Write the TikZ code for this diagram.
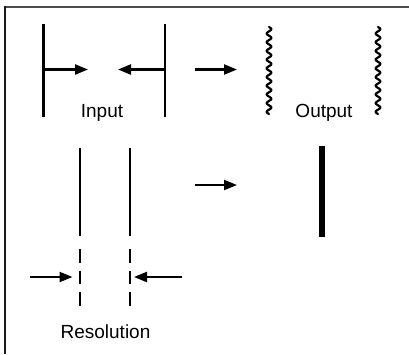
\documentclass[tikz,border=0pt]{standalone}
\usepackage{fontspec}
\setmainfont{Liberation Sans}
\usetikzlibrary{arrows.meta}
\begin{document}
\begin{tikzpicture}[x=1pt,y=-1pt,
  bar/.style={line width=2.2pt},
  arr/.style={line width=2.2pt,-{Triangle[length=13pt,width=10pt]}},
  lbl/.style={anchor=base,inner sep=0pt,font=\fontsize{19}{22}\selectfont}]
\useasboundingbox (0,0) rectangle (409,354);
% frame
\draw[line width=2pt,black!70] (4,7) -- (409,7);
\draw[line width=2pt,black!90] (5,6) -- (5,354);
% input
\draw[bar] (43.5,24) -- (43.5,117);
\draw[bar] (165,24) -- (165,117);
\coordinate (a1s) at (43.5,69.5); \coordinate (a1e) at (88,69.5);
\coordinate (a2s) at (165,69.5); \coordinate (a2e) at (118,69.5);
\draw[arr] (a1s) -- (a1e);
\draw[arr] (a2s) -- (a2e);
\node[lbl] (input) at (102,117) {Input};
% arrow to output
\coordinate (a3s) at (195,69.5); \coordinate (a3e) at (237,69.5);
\draw[arr] (a3s) -- (a3e);
% wavy lines
\draw[line width=2.2pt,line cap=round] plot[domain=0:87,samples=240,smooth] ({269+2.3*sin(\x*41.38)},{27+\x});
\draw[line width=2.2pt,line cap=round] plot[domain=0:87,samples=240,smooth] ({378+2.3*sin(\x*41.38)},{27+\x});
\node[lbl] (output) at (324,117) {Output};
% resolution
\draw[bar] (80,148) -- (80,236);
\draw[bar] (130,148) -- (130,236);
\draw[bar,dash pattern=on 13.5pt off 8pt] (80,249) -- (80,305.5);
\draw[bar,dash pattern=on 13.5pt off 8pt] (130,249) -- (130,305.5);
\coordinate (a5s) at (30,277); \coordinate (a5e) at (72.5,277);
\coordinate (a6s) at (182,277); \coordinate (a6e) at (134,277);
\draw[arr] (a5s) -- (a5e);
\draw[arr] (a6s) -- (a6e);
\node[lbl] (resolution) at (105.5,338) {Resolution};
% arrow to thick line
\coordinate (a4s) at (195,185); \coordinate (a4e) at (237,185);
\draw[arr] (a4s) -- (a4e);
\draw[line width=5.5pt] (322,146) -- (322,237);
\end{tikzpicture}
\end{document}
